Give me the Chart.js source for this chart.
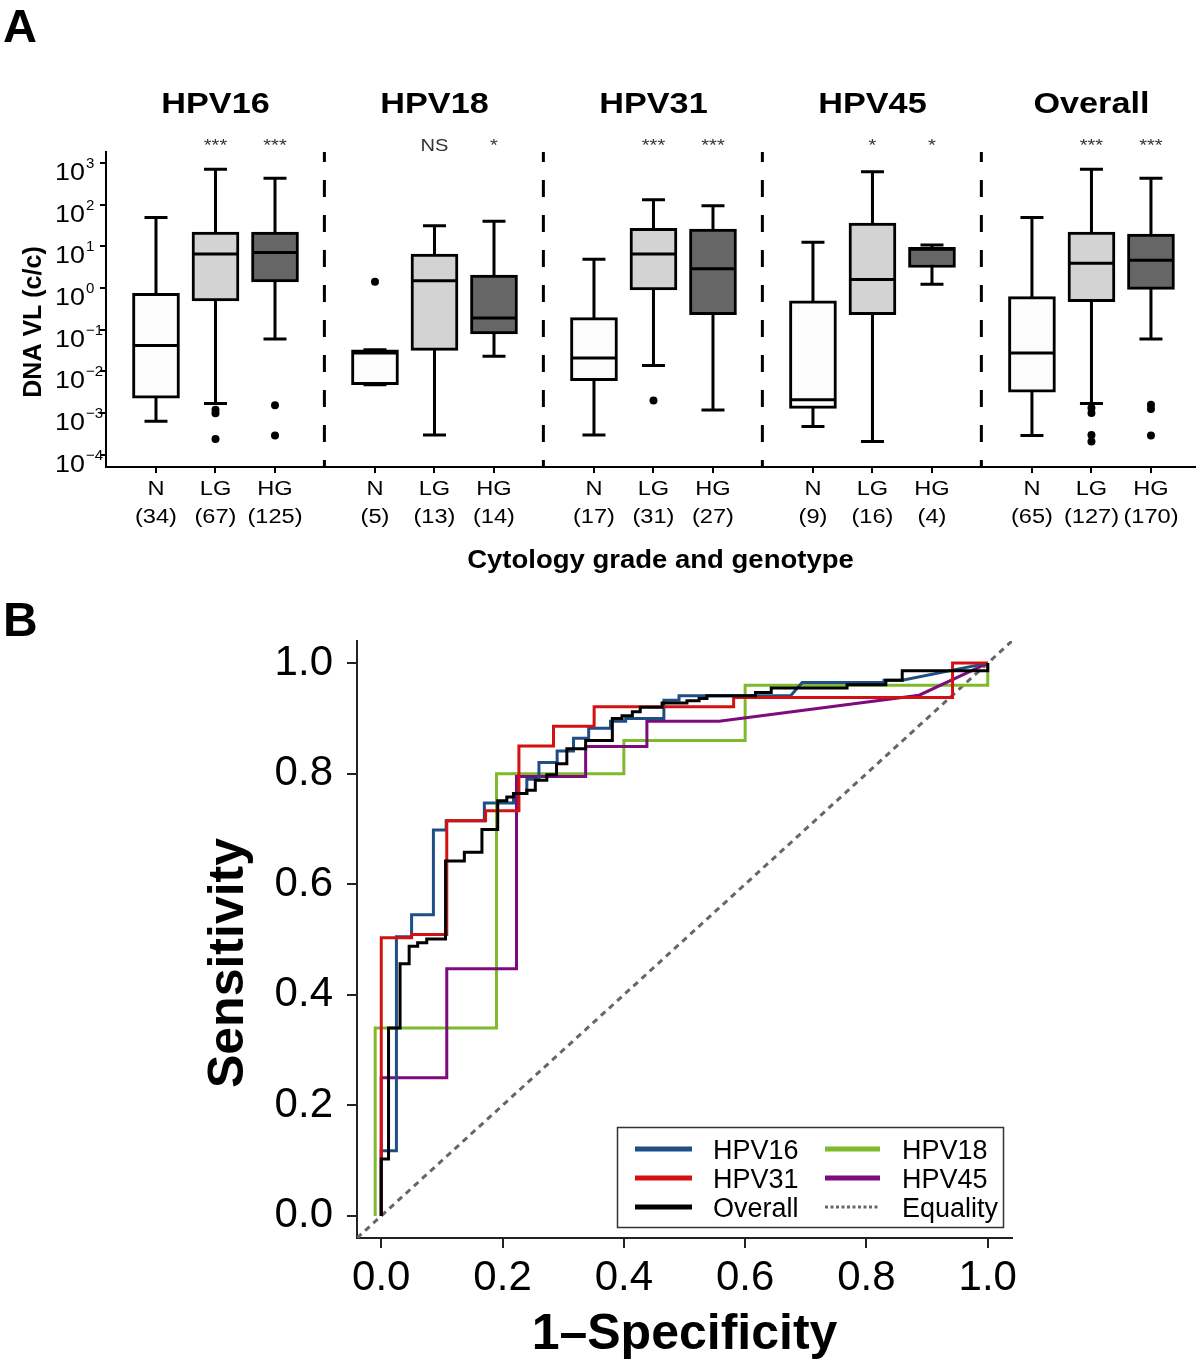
<!DOCTYPE html>
<html lang="en">
<head>
<meta charset="UTF-8">
<title>HPV DNA viral load by cytology grade and ROC curves</title>
<script src="https://cdn.jsdelivr.net/npm/chart.js"></script>
<style>
  body { margin: 0; background: #fff; }
  #wrap { position: relative; width: 1200px; height: 1364px; }
  #boxChart { position: absolute; left: 0; top: 0; }
  #rocChart { position: absolute; left: 0; top: 600px; }
</style>
</head>
<body>
<div id="wrap">
  <canvas id="boxChart" width="1200" height="600"></canvas>
  <canvas id="rocChart" width="1200" height="764"></canvas>
</div>
<script>
// ---------- Panel A data (DNA VL, c/c) ----------
const groups = ['HPV16', 'HPV18', 'HPV31', 'HPV45', 'Overall'];
const grades = ['N', 'LG', 'HG'];
const counts = [34, 67, 125, 5, 13, 14, 17, 31, 27, 9, 16, 4, 65, 127, 170];
const significance = ['', '***', '***', '', 'NS', '*', '', '***', '***', '', '*', '*', '', '***', '***'];

const whiskerLow  = [0.00064, 0.0017, 0.06, 0.0048, 0.0003, 0.023, 0.0003, 0.0139, 0.0012, 0.00048, 0.00021, 1.23, 0.00029, 0.0017, 0.06];
const q1          = [0.0023, 0.49, 1.4, 0.0048, 0.032, 0.079, 0.006, 0.9, 0.23, 0.0013, 0.23, 3.1, 0.0032, 0.47, 0.93];
const median      = [0.042, 6.5, 7.1, 0.0276, 1.5, 0.19, 0.021, 6.5, 2.9, 0.0021, 1.6, 8.5, 0.0276, 3.9, 4.6];
const q3          = [0.75, 22, 22, 0.033, 6.5, 2.05, 0.195, 27, 26, 0.49, 36, 9.5, 0.62, 22, 19.6];
const whiskerHigh = [49, 700, 425, 0.033, 31, 40, 4.9, 130, 94, 12.5, 610, 10.7, 49, 700, 425];
const outliers = [
  [], [0.00121, 0.001, 0.00024], [0.00155, 0.00029],
  [1.42], [], [],
  [], [0.002], [],
  [], [], [],
  [], [0.00133, 0.00101, 0.0003, 0.00021], [0.0016, 0.00126, 0.00029]
];
const yTickPowers = [-4, -3, -2, -1, 0, 1, 2, 3];

// ---------- Panel B data (ROC: 1-specificity, sensitivity) ----------
const hpv16Fpr = [0, 0, 0.025, 0.025, 0.05, 0.05, 0.086, 0.086, 0.107, 0.107, 0.17, 0.17, 0.218, 0.218, 0.24, 0.24, 0.26, 0.26, 0.29, 0.29, 0.317, 0.317, 0.342, 0.342, 0.378, 0.378, 0.403, 0.403, 0.466, 0.466, 0.491, 0.491, 0.675, 0.694, 0.829, 0.829, 0.859, 1.0];
const hpv16Tpr = [0, 0.118, 0.118, 0.505, 0.505, 0.545, 0.545, 0.698, 0.698, 0.715, 0.715, 0.747, 0.747, 0.764, 0.764, 0.79, 0.79, 0.82, 0.82, 0.841, 0.841, 0.864, 0.864, 0.882, 0.882, 0.895, 0.895, 0.9, 0.9, 0.933, 0.933, 0.941, 0.941, 0.965, 0.965, 0.969, 0.969, 1.0];

const hpv18Fpr = [-0.01, -0.01, 0.19, 0.19, 0.40, 0.40, 0.60, 0.60, 1.0, 1.0];
const hpv18Tpr = [0, 0.34, 0.34, 0.80, 0.80, 0.86, 0.86, 0.96, 0.96, 1.0];

const hpv31Fpr = [0, 0, 0.05, 0.05, 0.108, 0.108, 0.172, 0.172, 0.227, 0.227, 0.284, 0.284, 0.351, 0.351, 0.581, 0.581, 0.942, 0.942, 1.0];
const hpv31Tpr = [0, 0.503, 0.503, 0.509, 0.509, 0.715, 0.715, 0.733, 0.733, 0.85, 0.85, 0.886, 0.886, 0.921, 0.921, 0.938, 0.938, 1.0, 1.0];

const hpv45Fpr = [0, 0, 0.108, 0.108, 0.223, 0.223, 0.337, 0.337, 0.438, 0.438, 0.557, 0.887, 1.0];
const hpv45Tpr = [0, 0.25, 0.25, 0.447, 0.447, 0.795, 0.795, 0.849, 0.849, 0.895, 0.895, 0.942, 1.0];

const overallFpr = [0, 0, 0.012, 0.012, 0.031, 0.031, 0.046, 0.046, 0.06, 0.06, 0.075, 0.075, 0.106, 0.106, 0.137, 0.137,
  0.166, 0.166, 0.192, 0.192, 0.207, 0.207, 0.218, 0.218, 0.24, 0.24, 0.254, 0.254, 0.273, 0.273, 0.289, 0.289,
  0.306, 0.306, 0.337, 0.337, 0.381, 0.381, 0.397, 0.397, 0.414, 0.414, 0.427, 0.427, 0.463, 0.463, 0.504, 0.504,
  0.524, 0.524, 0.537, 0.537, 0.617, 0.617, 0.643, 0.643, 0.768, 0.768, 0.832, 0.832, 0.859, 0.859, 1.0, 1.0];
const overallTpr = [0, 0.103, 0.103, 0.34, 0.34, 0.456, 0.456, 0.488, 0.488, 0.494, 0.494, 0.501, 0.501, 0.642, 0.642, 0.658,
  0.658, 0.699, 0.699, 0.751, 0.751, 0.758, 0.758, 0.764, 0.764, 0.77, 0.77, 0.788, 0.788, 0.798, 0.798, 0.818,
  0.818, 0.845, 0.845, 0.86, 0.86, 0.90, 0.90, 0.905, 0.905, 0.912, 0.912, 0.92, 0.92, 0.928, 0.928, 0.932,
  0.932, 0.936, 0.936, 0.941, 0.941, 0.947, 0.947, 0.955, 0.955, 0.961, 0.961, 0.969, 0.969, 0.986, 0.986, 1.0];

const equalityX = [-0.04, 1.04];
const equalityY = [-0.04, 1.04];
const rocTicks = [0, 0.2, 0.4, 0.6, 0.8, 1.0];

// ---------- shared helpers ----------
const FONT = '"Liberation Sans", Arial, Helvetica, sans-serif';
Chart.defaults.font.family = FONT;
Chart.defaults.color = '#000';

function drawText(ctx, str, x, y, size, opts) {
  opts = opts || {};
  ctx.save();
  ctx.font = (opts.bold ? 'bold ' : '') + size + 'px ' + FONT;
  ctx.fillStyle = opts.color || '#000';
  ctx.textBaseline = 'alphabetic';
  ctx.textAlign = opts.align || 'center';
  ctx.translate(x, y);
  if (opts.rotate) ctx.rotate(opts.rotate);
  ctx.scale(opts.sx || 1, 1);
  ctx.fillText(str, 0, 0);
  ctx.restore();
}

// ---------- Panel A ----------
const GROUP_STEP = 3.68;
const SEP_OFFSET = 2.83;
const boxX = counts.map((c, k) => Math.floor(k / 3) * GROUP_STEP + (k % 3));
const separators = [0, 1, 2, 3].map(g => g * GROUP_STEP + SEP_OFFSET);
const boxFill = ['#fcfcfc', '#d3d3d3', '#666666'];
const SX = 1.18;

const outlierPoints = [];
outliers.forEach((list, k) => list.forEach(v => outlierPoints.push({ x: boxX[k], y: v })));

const boxExtras = {
  id: 'boxExtras',
  beforeDatasetsDraw(chart) {
    const { ctx, chartArea, scales: { x, y } } = chart;
    ctx.save();
    ctx.strokeStyle = '#000';
    ctx.lineWidth = 3;
    ctx.setLineDash([17, 18]);
    ctx.lineDashOffset = 7;
    separators.forEach(v => {
      const px = x.getPixelForValue(v);
      ctx.beginPath();
      ctx.moveTo(px, chartArea.top);
      ctx.lineTo(px, chartArea.bottom);
      ctx.stroke();
    });
    ctx.setLineDash([]);
    boxX.forEach((v, k) => {
      const px = x.getPixelForValue(v);
      const lo = y.getPixelForValue(whiskerLow[k]);
      const hi = y.getPixelForValue(whiskerHigh[k]);
      ctx.beginPath();
      ctx.moveTo(px, lo); ctx.lineTo(px, hi);
      ctx.moveTo(px - 11.5, lo); ctx.lineTo(px + 11.5, lo);
      ctx.moveTo(px - 11.5, hi); ctx.lineTo(px + 11.5, hi);
      ctx.stroke();
    });
    ctx.restore();
  },
  afterDatasetsDraw(chart) {
    const { ctx, scales: { x, y } } = chart;
    ctx.save();
    ctx.strokeStyle = '#000';
    ctx.lineWidth = 3;
    boxX.forEach((v, k) => {
      const px = x.getPixelForValue(v);
      const py = y.getPixelForValue(median[k]);
      ctx.beginPath();
      ctx.moveTo(px - 22, py); ctx.lineTo(px + 22, py);
      ctx.stroke();
    });
    ctx.restore();
  },
  afterDraw(chart) {
    const { ctx, chartArea, scales: { x, y } } = chart;
    drawText(ctx, 'A', 3, 42, 47, { bold: true, align: 'left' });
    groups.forEach((g, i) => {
      drawText(ctx, g, x.getPixelForValue(boxX[i * 3 + 1]), 113, 29, { bold: true, sx: 1.18 });
    });
    boxX.forEach((v, k) => {
      const px = x.getPixelForValue(v);
      if (significance[k]) drawText(ctx, significance[k], px, 151, 17, { sx: SX, color: '#333' });
      drawText(ctx, grades[k % 3], px, 495, 20, { sx: SX });
      drawText(ctx, '(' + counts[k] + ')', px, 523, 20, { sx: SX });
    });
    ctx.save();
    ctx.font = '24px ' + FONT;
    const baseW = ctx.measureText('10').width * 1.12;
    ctx.restore();
    yTickPowers.forEach(e => {
      const py = y.getPixelForValue(Math.pow(10, e));
      drawText(ctx, '10', 55, py + 17, 24, { align: 'left', sx: 1.12 });
      drawText(ctx, String(e).replace('-', '\u2212'), 56 + baseW, py + 5, 15, { align: 'left' });
    });
    drawText(ctx, 'DNA VL (c/c)', 41, 322, 25, { bold: true, rotate: -Math.PI / 2 });
    drawText(ctx, 'Cytology grade and genotype', (chartArea.left + chartArea.right) / 2 + 10, 568, 25, { bold: true, sx: 1.1 });
  }
};

const axisLine = { display: true, color: '#000', width: 2 };
const tickGrid = { drawOnChartArea: false, drawTicks: true, tickLength: 6, color: '#000', lineWidth: 2, offset: false };

new Chart(document.getElementById('boxChart'), {
  type: 'bar',
  data: {
    datasets: [
      {
        type: 'scatter',
        data: outlierPoints,
        pointRadius: 4,
        pointHoverRadius: 4,
        pointBackgroundColor: '#000',
        pointBorderWidth: 0
      },
      {
        type: 'bar',
        data: boxX.map((v, k) => ({ x: v, y: [q1[k], q3[k]] })),
        backgroundColor: boxX.map((v, k) => boxFill[k % 3]),
        borderColor: '#000',
        borderWidth: 3,
        borderSkipped: false,
        barThickness: 47,
        grouped: false
      }
    ]
  },
  options: {
    responsive: false,
    animation: false,
    events: [],
    layout: { padding: { top: 152, right: 5, left: 0, bottom: 0 } },
    plugins: { legend: { display: false }, tooltip: { enabled: false } },
    scales: {
      x: {
        type: 'linear',
        min: -0.84,
        max: 17.46,
        offset: false,
        afterBuildTicks: s => { s.ticks = boxX.map(v => ({ value: v })); },
        afterFit: s => { s.height = 133; },
        ticks: { callback: () => '', autoSkip: false, maxRotation: 0 },
        grid: tickGrid,
        border: axisLine
      },
      y: {
        type: 'logarithmic',
        min: Math.pow(10, -4.29),
        max: Math.pow(10, 3.26),
        afterBuildTicks: s => { s.ticks = yTickPowers.map(e => ({ value: Math.pow(10, e) })); },
        afterFit: s => { s.width = 106; },
        ticks: { callback: () => '', autoSkip: false },
        grid: tickGrid,
        border: axisLine
      }
    }
  },
  plugins: [boxExtras]
});

// ---------- Panel B ----------
const rocSeries = [
  { label: 'Overall', fpr: overallFpr, tpr: overallTpr, color: '#000000' },
  { label: 'HPV31', fpr: hpv31Fpr, tpr: hpv31Tpr, color: '#d41111' },
  { label: 'HPV16', fpr: hpv16Fpr, tpr: hpv16Tpr, color: '#1f4e85' },
  { label: 'HPV45', fpr: hpv45Fpr, tpr: hpv45Tpr, color: '#7d0b7d' },
  { label: 'HPV18', fpr: hpv18Fpr, tpr: hpv18Tpr, color: '#7fba2c' }
];
const rocDatasets = rocSeries.map(s => ({
  label: s.label,
  data: s.fpr.map((v, i) => ({ x: v, y: s.tpr[i] })),
  showLine: true,
  borderColor: s.color,
  borderWidth: 3,
  pointRadius: 0,
  tension: 0,
  fill: false
}));
rocDatasets.push({
  label: 'Equality',
  data: equalityX.map((v, i) => ({ x: v, y: equalityY[i] })),
  showLine: true,
  borderColor: '#666666',
  borderWidth: 3,
  borderDash: [6, 5],
  pointRadius: 0,
  fill: false
});

const legendLayout = [
  ['HPV16', 'HPV18'],
  ['HPV31', 'HPV45'],
  ['Overall', 'Equality']
];

const rocExtras = {
  id: 'rocExtras',
  afterDraw(chart) {
    const { ctx, chartArea } = chart;
    drawText(ctx, 'B', 3, 36, 48, { bold: true, align: 'left' });
    drawText(ctx, 'Sensitivity', 243, 363, 50, { bold: true, rotate: -Math.PI / 2 });
    drawText(ctx, '1\u2013Specificity', (chartArea.left + chartArea.right) / 2, 749, 50, { bold: true });

    // legend box
    ctx.save();
    ctx.strokeStyle = '#333';
    ctx.lineWidth = 1.5;
    ctx.strokeRect(617.5, 527.5, 386, 100);
    const rowY = [549, 578, 607];
    const colX = [[635, 692, 713], [825, 880, 902]];
    legendLayout.forEach((row, r) => {
      row.forEach((label, c) => {
        const ds = chart.data.datasets.find(d => d.label === label);
        ctx.beginPath();
        ctx.strokeStyle = ds.borderColor;
        ctx.lineWidth = label === 'Equality' ? 3 : 5;
        ctx.setLineDash(label === 'Equality' ? [3, 2.5] : []);
        ctx.moveTo(colX[c][0], rowY[r]);
        ctx.lineTo(colX[c][1], rowY[r]);
        ctx.stroke();
        drawText(ctx, label, colX[c][2], rowY[r] + 10, 27, { align: 'left' });
      });
    });
    ctx.restore();
  }
};

const rocGrid = { drawOnChartArea: false, drawTicks: true, tickLength: 10, color: '#222', lineWidth: 2 };
const rocBorder = { display: true, color: '#222', width: 2 };

new Chart(document.getElementById('rocChart'), {
  type: 'scatter',
  data: { datasets: rocDatasets },
  options: {
    responsive: false,
    animation: false,
    events: [],
    layout: { padding: { top: 41, right: 188, left: 0, bottom: 0 } },
    plugins: { legend: { display: false }, tooltip: { enabled: false } },
    scales: {
      x: {
        type: 'linear',
        min: -0.04,
        max: 1.04,
        afterBuildTicks: s => { s.ticks = rocTicks.map(v => ({ value: v })); },
        afterFit: s => { s.height = 126; },
        ticks: { callback: v => v.toFixed(1), font: { size: 42 }, padding: 5, color: '#000', maxRotation: 0 },
        grid: rocGrid,
        border: rocBorder
      },
      y: {
        type: 'linear',
        min: -0.04,
        max: 1.04,
        afterBuildTicks: s => { s.ticks = rocTicks.map(v => ({ value: v })); },
        afterFit: s => { s.width = 357; },
        ticks: { callback: v => v.toFixed(1), font: { size: 42 }, padding: 14, color: '#000' },
        grid: rocGrid,
        border: rocBorder
      }
    }
  },
  plugins: [rocExtras]
});
</script>
</body>
</html>
